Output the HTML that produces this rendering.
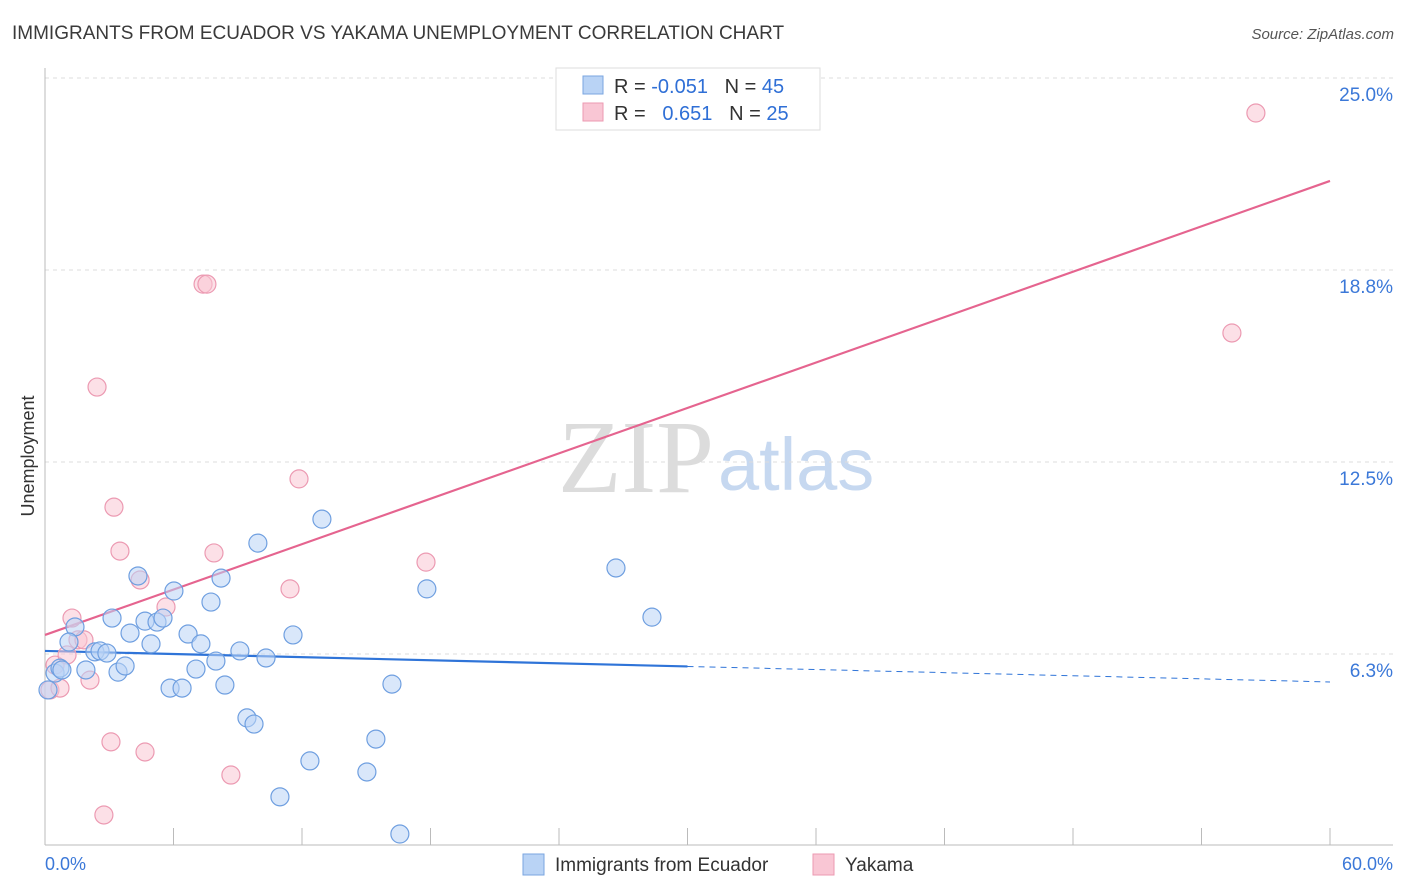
<!DOCTYPE html>
<html><head><meta charset="utf-8"><style>
body{margin:0;background:#fff;font-family:"Liberation Sans",sans-serif;}
svg{display:block}
</style></head><body>
<svg id="chart" width="1406" height="892">
<text x="12" y="39" font-size="19" fill="#3a3a3a">IMMIGRANTS FROM ECUADOR VS YAKAMA UNEMPLOYMENT CORRELATION CHART</text>
<text x="1394" y="39" font-size="15" fill="#555" font-style="italic" text-anchor="end">Source: ZipAtlas.com</text>
<text transform="translate(34,456) rotate(-90)" font-size="18" fill="#333" text-anchor="middle">Unemployment</text>
<g>
<text x="714" y="492" font-size="104" font-family="Liberation Serif,serif" fill="#dcdcdc" text-anchor="end">ZIP</text>
<text x="718" y="490" font-size="74" fill="#c6d8f0">atlas</text>
</g>
<g id="grid"></g><g id="axes"></g><g id="lines"></g><g id="points"></g>
<g>
<rect x="556" y="68" width="264" height="62" fill="#fff" stroke="#ddd"/>
<rect x="583" y="76" width="20" height="18" fill="#b9d3f5" stroke="#7aa6e0"/>
<rect x="583" y="103" width="20" height="18" fill="#f9c6d4" stroke="#ec9ab2"/>
<text x="614" y="93" font-size="20" fill="#333">R = <tspan fill="#2f6fd6">-0.051</tspan>&#160;&#160;&#160;N = <tspan fill="#2f6fd6">45</tspan></text>
<text x="614" y="120" font-size="20" fill="#333">R = &#160;&#160;<tspan fill="#2f6fd6">0.651</tspan>&#160;&#160;&#160;N = <tspan fill="#2f6fd6">25</tspan></text>
</g>
<g>
<rect x="523" y="854" width="21" height="21" fill="#b9d3f5" stroke="#7aa6e0"/>
<text x="555" y="871" font-size="19" fill="#333">Immigrants from Ecuador</text>
<rect x="813" y="854" width="21" height="21" fill="#f9c6d4" stroke="#ec9ab2"/>
<text x="845" y="871" font-size="19" fill="#333">Yakama</text>
</g>
</svg>
<script>
const yTicks=[6.25,12.5,18.75,25];
const yTickLabels=["6.3%","12.5%","18.8%","25.0%"];
const xTicks=[0,6,12,18,24,30,36,42,48,54,60];
const blueX=[0.47,0.70,0.14,0.79,1.40,1.12,1.91,2.33,2.57,2.89,3.13,3.41,3.74,3.97,4.34,4.67,4.95,5.23,5.51,5.84,6.02,6.40,6.68,7.05,7.28,7.75,7.98,8.22,8.40,9.10,9.43,9.76,9.94,10.32,10.97,11.58,12.37,12.93,15.03,15.45,16.20,16.57,17.83,26.66,28.34];
const blueY=[5.63,5.79,5.08,5.73,7.13,6.64,5.73,6.32,6.35,6.28,7.42,5.66,5.86,6.93,8.79,7.32,6.58,7.29,7.42,5.14,8.30,5.14,6.90,5.76,6.58,7.94,6.02,8.72,5.24,6.35,4.17,3.97,9.86,6.12,1.60,6.87,2.77,10.64,2.41,3.48,5.27,0.39,8.37,9.05,7.45];
const pinkX=[0.23,0.47,0.70,1.03,1.26,1.54,1.82,2.10,2.43,2.75,3.08,3.22,3.50,4.44,4.67,5.65,7.38,7.56,7.89,8.68,11.44,11.86,17.79,55.42,56.54];
const pinkY=[5.08,5.89,5.14,6.22,7.42,6.71,6.71,5.40,14.94,1.01,3.39,11.03,9.60,8.66,3.06,7.78,18.29,18.29,9.54,2.31,8.37,11.95,9.24,16.70,23.86];
const blueTrend=[6.35,5.34];
const pinkTrend=[6.87,21.65];
const blueSolidEnd=30;

const NS="http://www.w3.org/2000/svg";
const X=v=>45+v/60*1285;
const Y=v=>654-(v-6.25)*30.72;
function mk(tag,attrs,parent){const e=document.createElementNS(NS,tag);for(const k in attrs)e.setAttribute(k,attrs[k]);parent.appendChild(e);return e;}
const grid=document.getElementById('grid'),axes=document.getElementById('axes'),lines=document.getElementById('lines'),pts=document.getElementById('points');
yTicks.forEach((t,i)=>{
 const l=mk('line',{x1:45,x2:1393,y1:Y(t),y2:Y(t),stroke:'#ddd','stroke-dasharray':'4,4'},grid);
 
 
 const tx=mk('text',{x:1393,y:Y(t)+23,'font-size':19,fill:'#3b78d8','text-anchor':'end'},grid);
 tx.textContent=yTickLabels[i];
 
 
});
const ya=mk('line',{x1:45,x2:45,y1:68,y2:845,stroke:'#bbb'},axes);


const xa=mk('line',{x1:45,x2:1393,y1:845,y2:845,stroke:'#bbb'},axes);


xTicks.forEach(t=>{
 const l=mk('line',{x1:X(t),x2:X(t),y1:828,y2:845,stroke:'#bbb'},axes);
 
 
});
const xl0=mk('text',{x:45,y:870,'font-size':18,fill:'#3b78d8'},axes);xl0.textContent='0.0%';


const xl1=mk('text',{x:1393,y:870,'font-size':18,fill:'#3b78d8','text-anchor':'end'},axes);xl1.textContent='60.0%';


function draw(xs,ys,fill,stroke,name){xs.forEach((x,i)=>{
 const c=mk('circle',{cx:X(x),cy:Y(ys[i]),r:9,fill:fill,stroke:stroke,'stroke-width':1.2,'fill-opacity':0.55},pts);
 
 
});}
draw(pinkX,pinkY,'#f9c6d4','#ec9ab2','yakama-point');
draw(blueX,blueY,'#b9d3f5','#6f9fe0','ecuador-point');
const bAt=x=>blueTrend[0]+(blueTrend[1]-blueTrend[0])*x/60;
const b1=mk('line',{x1:X(0),y1:Y(bAt(0)),x2:X(blueSolidEnd),y2:Y(bAt(blueSolidEnd)),stroke:'#2f74d8','stroke-width':2.2},lines);


const b2=mk('line',{x1:X(blueSolidEnd),y1:Y(bAt(blueSolidEnd)),x2:X(60),y2:Y(bAt(60)),stroke:'#2f74d8','stroke-width':1,'stroke-dasharray':'6,5'},lines);


const p=mk('line',{x1:X(0),y1:Y(pinkTrend[0]),x2:X(60),y2:Y(pinkTrend[1]),stroke:'#e5648f','stroke-width':2.2},lines);


</script>
</body></html>
